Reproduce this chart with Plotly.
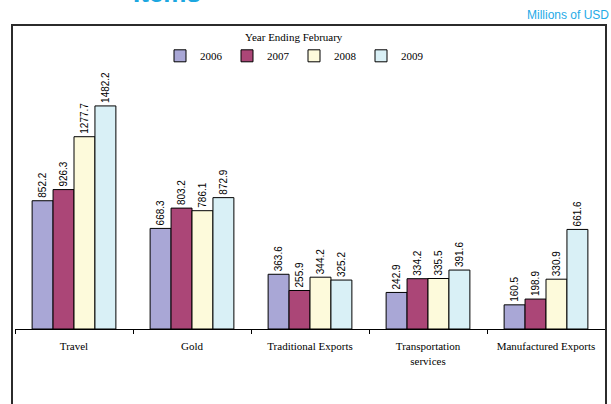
import plotly.graph_objects as go

categories = ["Travel", "Gold", "Traditional Exports", "Transportation<br>services", "Manufactured Exports"]
years = ["2006", "2007", "2008", "2009"]
v2006 = [852.2, 668.3, 363.6, 242.9, 160.5]
v2007 = [926.3, 803.2, 255.9, 334.2, 198.9]
v2008 = [1277.7, 786.1, 344.2, 335.5, 330.9]
v2009 = [1482.2, 872.9, 325.2, 391.6, 661.6]
colors = ["#a9a7d6", "#ab4677", "#fdfadb", "#d9f0f6"]

W, H = 611, 404
L, R, T, B = 15, 6, 75, 75
pw, ph = W - L - R, H - T - B

def px(x):
    return (x - L) / pw

def py(y):
    return (H - B - y) / ph

fig = go.Figure()
for name, vals, c in zip(years, [v2006, v2007, v2008, v2009], colors):
    fig.add_trace(go.Bar(
        x=categories, y=vals, name=name,
        marker=dict(color=c, line=dict(color="#000000", width=1)),
        texttemplate="%{y:.1f}", textposition="outside", textangle=-90,
        constraintext="none",
        textfont=dict(family="Liberation Sans", size=10, color="#000000"),
        cliponaxis=False,
    ))

fig.update_layout(
    width=W, height=H,
    margin=dict(l=L, r=R, t=T, b=B),
    paper_bgcolor="white", plot_bgcolor="white",
    barmode="group", bargap=0.29, bargroupgap=0,
    showlegend=True,
    legend=dict(
        orientation="h", x=px(294), xanchor="center", y=py(27), yanchor="top",
        title=dict(text="Year Ending February", side="top center",
                   font=dict(family="Liberation Serif", size=11, color="#000")),
        font=dict(family="Liberation Serif", size=11, color="#000"),
        itemwidth=30, entrywidth=22, entrywidthmode="pixels",
        bgcolor="rgba(0,0,0,0)",
    ),
    xaxis=dict(
        showline=True, linecolor="#000", linewidth=1,
        ticks="outside", ticklen=4, tickcolor="#000", tickson="boundaries",
        ticklabelstandoff=7,
        tickfont=dict(family="Liberation Serif", size=11, color="#000"),
        showgrid=False,
    ),
    yaxis=dict(range=[0, (H - B - T) / 0.1505], visible=False, showgrid=False, zeroline=False),
    font=dict(family="Liberation Serif"),
)

fig.add_shape(type="rect", xref="paper", yref="paper",
              x0=px(12), x1=px(606), y0=py(420), y1=py(25),
              line=dict(color="#2b2b2b", width=2), fillcolor="rgba(0,0,0,0)", layer="above")

fig.add_annotation(text="Millions of USD", xref="paper", yref="paper",
                   x=px(611), y=py(15), xanchor="right", yanchor="middle", showarrow=False,
                   font=dict(family="Liberation Sans", size=12, color="#1eaae7"))
fig.add_annotation(text="<b>Items</b>", xref="paper", yref="paper",
                   x=px(167), y=py(10), xanchor="center", yanchor="bottom", showarrow=False,
                   font=dict(family="Liberation Sans", size=26, color="#1ca7e0"))

fig.write_html("out.html")
